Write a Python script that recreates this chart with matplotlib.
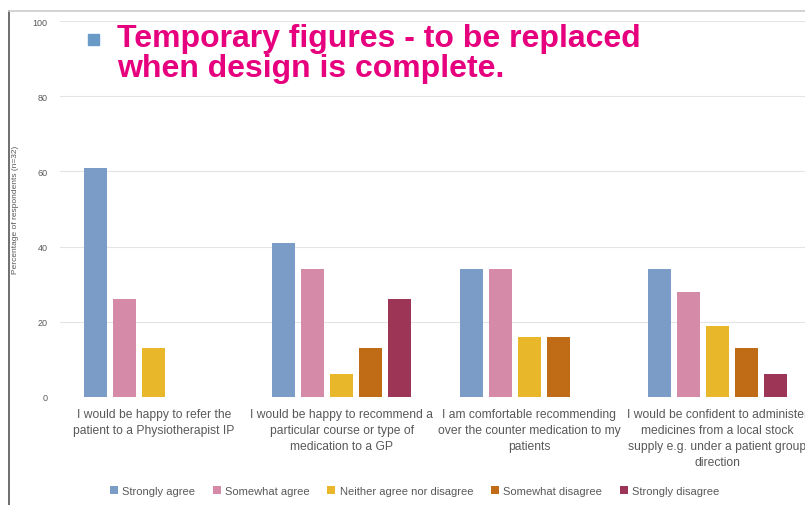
import matplotlib
matplotlib.use("Agg")
import matplotlib.pyplot as plt
import numpy as np
from matplotlib.lines import Line2D
from matplotlib.patches import Rectangle

categories = [
    "I would be happy to refer the\npatient to a Physiotherapist IP",
    "I would be happy to recommend a\nparticular course or type of\nmedication to a GP",
    "I am comfortable recommending\nover the counter medication to my\npatients",
    "I would be confident to administer\nmedicines from a local stock\nsupply e.g. under a patient group\ndirection",
]
responses = ["Strongly agree", "Somewhat agree", "Neither agree nor disagree",
             "Somewhat disagree", "Strongly disagree"]
strongly_agree = [61, 41, 34, 34]
somewhat_agree = [26, 34, 34, 28]
neither = [13, 6, 16, 19]
somewhat_disagree = [0, 13, 16, 13]
strongly_disagree = [0, 26, 0, 6]
y_ticks = [0, 20, 40, 60, 80, 100]

colors = ["#7b9cc7", "#d58ba7", "#e8b72a", "#c06c16", "#9d3557"]
series = [strongly_agree, somewhat_agree, neither, somewhat_disagree, strongly_disagree]

plt.rcParams["font.family"] = ["Liberation Sans", "DejaVu Sans"]

W, H = 805, 506
fig = plt.figure(figsize=(W / 100, H / 100), dpi=100)
ax = fig.add_axes([60 / W, (H - 398) / H, 751 / W, 376 / H])

x = np.arange(len(categories))
step = 29 / 188
for i, (vals, col, name) in enumerate(zip(series, colors, responses)):
    ax.bar(x + (i - 2) * step, vals, width=23 / 188, color=col, label=name, zorder=3)

ax.set_xlim(-0.5, 3.5)
ax.set_ylim(0, 100)
ax.set_yticks(y_ticks)
ax.set_yticklabels([str(t) for t in y_ticks])
ax.set_xticks(x)
ax.set_xticklabels(categories, fontsize=8.7, color="#595959", linespacing=1.45, va="top")
ax.tick_params(axis="y", length=0, pad=9, labelsize=6.5, labelcolor="#595959")
ax.tick_params(axis="x", length=0, pad=8)
ax.grid(axis="y", color="#e4e4e4", linewidth=0.8, zorder=0)
for s in ax.spines.values():
    s.set_visible(False)
ax.set_ylabel("Percentage of respondents (n=32)", fontsize=6, color="#595959", labelpad=10)

fig.legend(loc="center", bbox_to_anchor=(0.515, (H - 492) / H), ncol=5, frameon=False,
           fontsize=8, labelcolor="#595959", handlelength=0.7, handleheight=0.7,
           handletextpad=0.4, columnspacing=1.6)

# screenshot border
fig.add_artist(Line2D([9 / W, 9 / W], [0, (H - 12) / H], color="#555555", linewidth=1.2))
fig.add_artist(Line2D([9 / W, 1], [(H - 12) / H, (H - 12) / H], color="#cccccc", linewidth=1.2))

# placeholder banner
fig.add_artist(Rectangle((88 / W, (H - 46) / H), 11 / W, 11 / H, color="#6a9ac8",
                         transform=fig.transFigure))
fig.text(117 / W, (H - 24) / H, "Temporary figures - to be replaced\nwhen design is complete.",
         fontsize=23, fontweight="bold", color="#e6007e", va="top", ha="left", linespacing=1.0)

fig.savefig("out.png", dpi=100)
